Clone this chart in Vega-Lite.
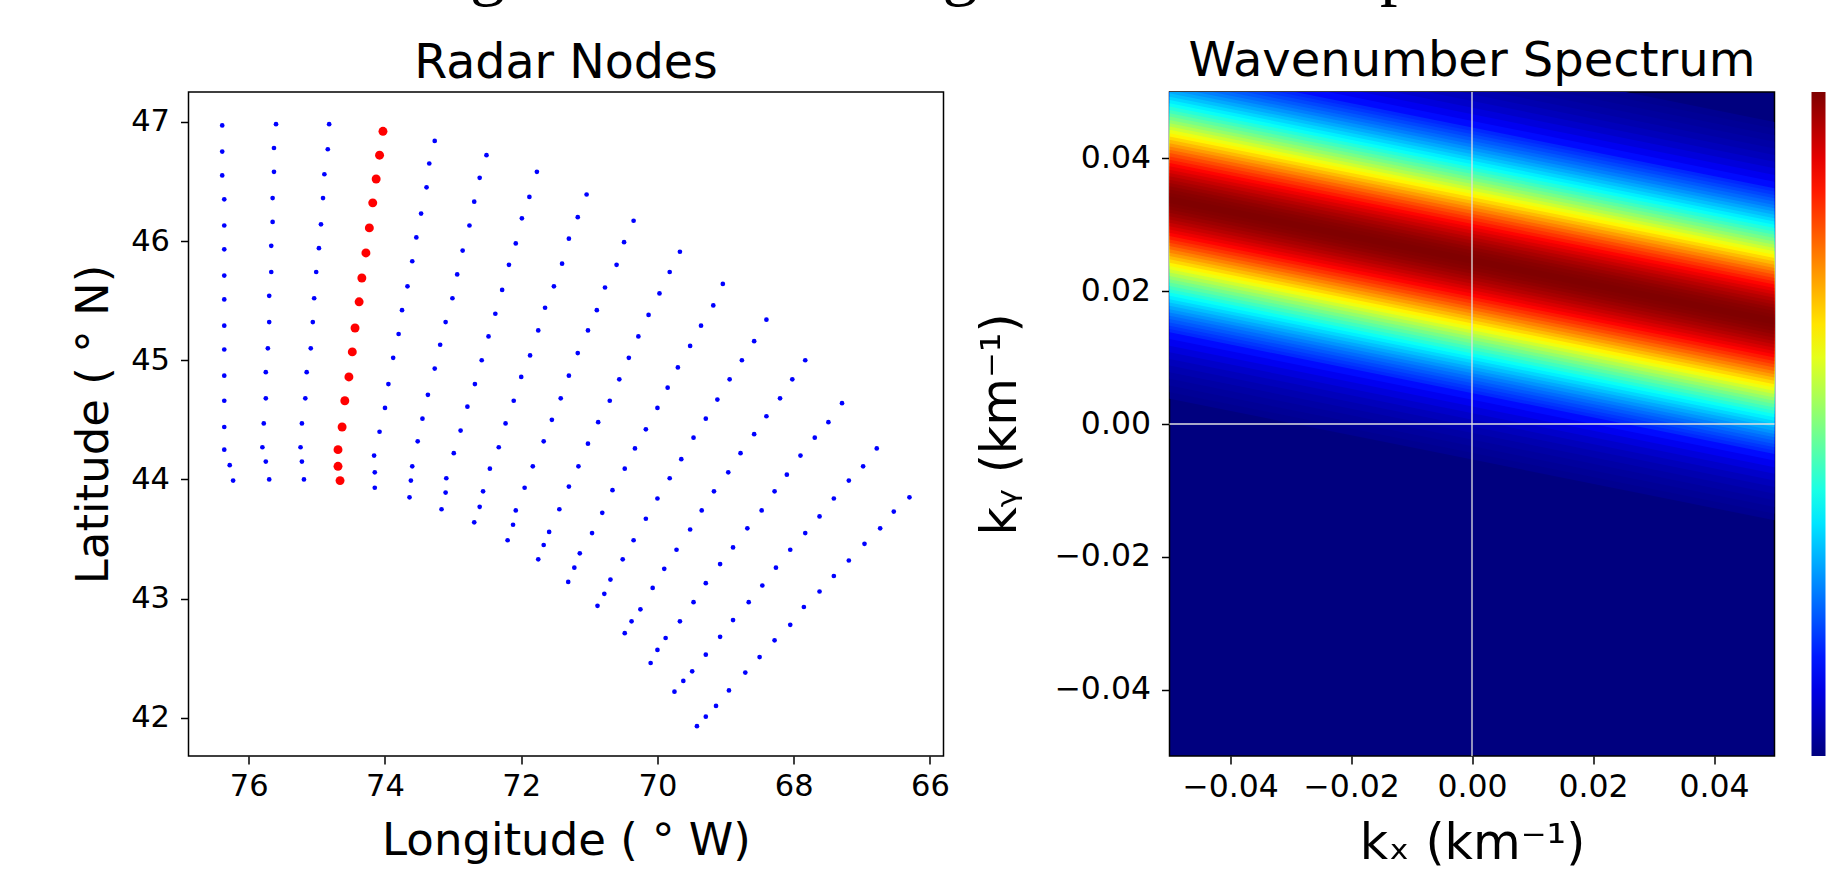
{"$schema":"https://vega.github.io/schema/vega-lite/v6.json","background":"white","padding":{"left":70.5,"top":-65,"right":0,"bottom":0},"title":{"text":"g\u00a0\u00a0\u00a0\u00a0\u00a0\u00a0\u00a0\u00a0\u00a0\u00a0\u00a0\u00a0\u00a0\u00a0\u00a0\u00a0\u00a0\u00a0\u00a0\u00a0\u00a0\u00a0\u00a0\u00a0\u00a0g\u00a0\u00a0\u00a0\u00a0\u00a0\u00a0\u00a0\u00a0\u00a0\u00a0\u00a0\u00a0\u00a0\u00a0\u00a0\u00a0\u00a0\u00a0\u00a0\u00a0\u00a0\u00a0\u00a0p","dx":399,"font":"Liberation Serif","fontSize":70,"fontWeight":"normal","anchor":"start","color":"black","offset":31},"config":{"font":"DejaVu Sans","axis":{"grid":false,"domain":false,"tickColor":"black","tickWidth":1.5,"tickSize":8,"labelColor":"black","titleColor":"black","labelFontSize":30.5,"titleFontSize":45,"titleFontWeight":"normal","labelFont":"DejaVu Sans","titleFont":"DejaVu Sans"},"title":{"fontSize":47.5,"fontWeight":"normal","color":"black","offset":5},"view":{"stroke":"black","strokeWidth":1.5}},"spacing":25,"hconcat":[{"width":755,"height":664,"title":{"text":"Radar Nodes"},"data":{"values":[
{"lon":76.39,"lat":46.97,"s":"n"},{"lon":76.39,"lat":46.75,"s":"n"},{"lon":76.39,"lat":46.55,"s":"n"},{"lon":76.36,"lat":46.35,"s":"n"},{"lon":76.36,"lat":46.13,"s":"n"},{"lon":76.36,"lat":45.93,"s":"n"},{"lon":76.36,"lat":45.71,"s":"n"},{"lon":76.36,"lat":45.51,"s":"n"},{"lon":76.36,"lat":45.29,"s":"n"},{"lon":76.36,"lat":45.09,"s":"n"},{"lon":76.36,"lat":44.87,"s":"n"},{"lon":76.36,"lat":44.66,"s":"n"},{"lon":76.36,"lat":44.44,"s":"n"},{"lon":76.36,"lat":44.25,"s":"n"},{"lon":76.28,"lat":44.12,"s":"n"},{"lon":76.23,"lat":43.99,"s":"n"},
{"lon":75.60,"lat":46.98,"s":"n"},{"lon":75.63,"lat":46.78,"s":"n"},{"lon":75.63,"lat":46.58,"s":"n"},{"lon":75.65,"lat":46.36,"s":"n"},{"lon":75.65,"lat":46.16,"s":"n"},{"lon":75.67,"lat":45.96,"s":"n"},{"lon":75.67,"lat":45.74,"s":"n"},{"lon":75.70,"lat":45.54,"s":"n"},{"lon":75.70,"lat":45.32,"s":"n"},{"lon":75.72,"lat":45.10,"s":"n"},{"lon":75.75,"lat":44.90,"s":"n"},{"lon":75.75,"lat":44.68,"s":"n"},{"lon":75.78,"lat":44.47,"s":"n"},{"lon":75.80,"lat":44.27,"s":"n"},{"lon":75.75,"lat":44.15,"s":"n"},{"lon":75.70,"lat":44.00,"s":"n"},
{"lon":74.82,"lat":46.98,"s":"n"},{"lon":74.84,"lat":46.77,"s":"n"},{"lon":74.89,"lat":46.56,"s":"n"},{"lon":74.91,"lat":46.36,"s":"n"},{"lon":74.94,"lat":46.14,"s":"n"},{"lon":74.97,"lat":45.94,"s":"n"},{"lon":75.01,"lat":45.74,"s":"n"},{"lon":75.04,"lat":45.52,"s":"n"},{"lon":75.06,"lat":45.32,"s":"n"},{"lon":75.09,"lat":45.10,"s":"n"},{"lon":75.15,"lat":44.90,"s":"n"},{"lon":75.17,"lat":44.68,"s":"n"},{"lon":75.22,"lat":44.47,"s":"n"},{"lon":75.24,"lat":44.27,"s":"n"},{"lon":75.22,"lat":44.15,"s":"n"},{"lon":75.19,"lat":44.00,"s":"n"},
{"lon":74.03,"lat":46.92,"s":"y"},{"lon":74.08,"lat":46.72,"s":"y"},{"lon":74.13,"lat":46.52,"s":"y"},{"lon":74.18,"lat":46.32,"s":"y"},{"lon":74.23,"lat":46.11,"s":"y"},{"lon":74.28,"lat":45.90,"s":"y"},{"lon":74.34,"lat":45.69,"s":"y"},{"lon":74.38,"lat":45.49,"s":"y"},{"lon":74.44,"lat":45.27,"s":"y"},{"lon":74.48,"lat":45.07,"s":"y"},{"lon":74.53,"lat":44.86,"s":"y"},{"lon":74.59,"lat":44.66,"s":"y"},{"lon":74.63,"lat":44.44,"s":"y"},{"lon":74.69,"lat":44.25,"s":"y"},{"lon":74.69,"lat":44.11,"s":"y"},{"lon":74.66,"lat":43.99,"s":"y"},
{"lon":73.27,"lat":46.84,"s":"n"},{"lon":73.35,"lat":46.65,"s":"n"},{"lon":73.39,"lat":46.45,"s":"n"},{"lon":73.47,"lat":46.23,"s":"n"},{"lon":73.54,"lat":46.03,"s":"n"},{"lon":73.60,"lat":45.83,"s":"n"},{"lon":73.67,"lat":45.62,"s":"n"},{"lon":73.75,"lat":45.42,"s":"n"},{"lon":73.80,"lat":45.22,"s":"n"},{"lon":73.88,"lat":45.02,"s":"n"},{"lon":73.95,"lat":44.80,"s":"n"},{"lon":74.00,"lat":44.60,"s":"n"},{"lon":74.08,"lat":44.40,"s":"n"},{"lon":74.16,"lat":44.20,"s":"n"},{"lon":74.15,"lat":44.06,"s":"n"},{"lon":74.15,"lat":43.93,"s":"n"},
{"lon":72.51,"lat":46.72,"s":"n"},{"lon":72.61,"lat":46.53,"s":"n"},{"lon":72.69,"lat":46.33,"s":"n"},{"lon":72.76,"lat":46.13,"s":"n"},{"lon":72.86,"lat":45.92,"s":"n"},{"lon":72.94,"lat":45.72,"s":"n"},{"lon":73.01,"lat":45.52,"s":"n"},{"lon":73.11,"lat":45.32,"s":"n"},{"lon":73.19,"lat":45.13,"s":"n"},{"lon":73.27,"lat":44.93,"s":"n"},{"lon":73.37,"lat":44.71,"s":"n"},{"lon":73.45,"lat":44.51,"s":"n"},{"lon":73.52,"lat":44.32,"s":"n"},{"lon":73.60,"lat":44.11,"s":"n"},{"lon":73.62,"lat":43.99,"s":"n"},{"lon":73.64,"lat":43.85,"s":"n"},
{"lon":71.77,"lat":46.58,"s":"n"},{"lon":71.88,"lat":46.37,"s":"n"},{"lon":71.99,"lat":46.19,"s":"n"},{"lon":72.08,"lat":45.98,"s":"n"},{"lon":72.18,"lat":45.80,"s":"n"},{"lon":72.28,"lat":45.59,"s":"n"},{"lon":72.38,"lat":45.39,"s":"n"},{"lon":72.48,"lat":45.20,"s":"n"},{"lon":72.58,"lat":45.00,"s":"n"},{"lon":72.68,"lat":44.80,"s":"n"},{"lon":72.79,"lat":44.61,"s":"n"},{"lon":72.89,"lat":44.41,"s":"n"},{"lon":72.99,"lat":44.22,"s":"n"},{"lon":73.10,"lat":44.01,"s":"n"},{"lon":73.11,"lat":43.89,"s":"n"},{"lon":73.17,"lat":43.75,"s":"n"},
{"lon":71.04,"lat":46.39,"s":"n"},{"lon":71.17,"lat":46.20,"s":"n"},{"lon":71.30,"lat":46.02,"s":"n"},{"lon":71.40,"lat":45.81,"s":"n"},{"lon":71.52,"lat":45.62,"s":"n"},{"lon":71.65,"lat":45.44,"s":"n"},{"lon":71.75,"lat":45.25,"s":"n"},{"lon":71.87,"lat":45.04,"s":"n"},{"lon":72.00,"lat":44.86,"s":"n"},{"lon":72.11,"lat":44.66,"s":"n"},{"lon":72.23,"lat":44.47,"s":"n"},{"lon":72.33,"lat":44.27,"s":"n"},{"lon":72.46,"lat":44.09,"s":"n"},{"lon":72.56,"lat":43.90,"s":"n"},{"lon":72.61,"lat":43.77,"s":"n"},{"lon":72.69,"lat":43.64,"s":"n"},
{"lon":70.35,"lat":46.17,"s":"n"},{"lon":70.49,"lat":45.99,"s":"n"},{"lon":70.60,"lat":45.80,"s":"n"},{"lon":70.77,"lat":45.61,"s":"n"},{"lon":70.89,"lat":45.42,"s":"n"},{"lon":71.02,"lat":45.25,"s":"n"},{"lon":71.17,"lat":45.06,"s":"n"},{"lon":71.30,"lat":44.87,"s":"n"},{"lon":71.42,"lat":44.68,"s":"n"},{"lon":71.55,"lat":44.50,"s":"n"},{"lon":71.67,"lat":44.32,"s":"n"},{"lon":71.83,"lat":44.11,"s":"n"},{"lon":71.95,"lat":43.93,"s":"n"},{"lon":72.08,"lat":43.74,"s":"n"},{"lon":72.12,"lat":43.62,"s":"n"},{"lon":72.20,"lat":43.49,"s":"n"},
{"lon":69.67,"lat":45.91,"s":"n"},{"lon":69.82,"lat":45.74,"s":"n"},{"lon":69.97,"lat":45.56,"s":"n"},{"lon":70.13,"lat":45.38,"s":"n"},{"lon":70.28,"lat":45.20,"s":"n"},{"lon":70.42,"lat":45.02,"s":"n"},{"lon":70.56,"lat":44.84,"s":"n"},{"lon":70.70,"lat":44.66,"s":"n"},{"lon":70.87,"lat":44.48,"s":"n"},{"lon":71.02,"lat":44.30,"s":"n"},{"lon":71.16,"lat":44.11,"s":"n"},{"lon":71.30,"lat":43.94,"s":"n"},{"lon":71.44,"lat":43.75,"s":"n"},{"lon":71.59,"lat":43.56,"s":"n"},{"lon":71.67,"lat":43.45,"s":"n"},{"lon":71.75,"lat":43.33,"s":"n"},
{"lon":69.04,"lat":45.64,"s":"n"},{"lon":69.18,"lat":45.46,"s":"n"},{"lon":69.36,"lat":45.29,"s":"n"},{"lon":69.52,"lat":45.12,"s":"n"},{"lon":69.70,"lat":44.94,"s":"n"},{"lon":69.85,"lat":44.77,"s":"n"},{"lon":70.00,"lat":44.60,"s":"n"},{"lon":70.17,"lat":44.42,"s":"n"},{"lon":70.33,"lat":44.26,"s":"n"},{"lon":70.48,"lat":44.09,"s":"n"},{"lon":70.66,"lat":43.91,"s":"n"},{"lon":70.81,"lat":43.72,"s":"n"},{"lon":70.96,"lat":43.55,"s":"n"},{"lon":71.14,"lat":43.38,"s":"n"},{"lon":71.22,"lat":43.26,"s":"n"},{"lon":71.31,"lat":43.14,"s":"n"},
{"lon":68.40,"lat":45.34,"s":"n"},{"lon":68.58,"lat":45.16,"s":"n"},{"lon":68.76,"lat":45.00,"s":"n"},{"lon":68.94,"lat":44.84,"s":"n"},{"lon":69.12,"lat":44.67,"s":"n"},{"lon":69.29,"lat":44.51,"s":"n"},{"lon":69.47,"lat":44.35,"s":"n"},{"lon":69.65,"lat":44.17,"s":"n"},{"lon":69.82,"lat":44.01,"s":"n"},{"lon":70.00,"lat":43.84,"s":"n"},{"lon":70.17,"lat":43.67,"s":"n"},{"lon":70.35,"lat":43.49,"s":"n"},{"lon":70.51,"lat":43.33,"s":"n"},{"lon":70.69,"lat":43.16,"s":"n"},{"lon":70.78,"lat":43.04,"s":"n"},{"lon":70.88,"lat":42.94,"s":"n"},
{"lon":67.83,"lat":45.00,"s":"n"},{"lon":68.02,"lat":44.84,"s":"n"},{"lon":68.20,"lat":44.68,"s":"n"},{"lon":68.40,"lat":44.53,"s":"n"},{"lon":68.58,"lat":44.38,"s":"n"},{"lon":68.78,"lat":44.22,"s":"n"},{"lon":68.96,"lat":44.06,"s":"n"},{"lon":69.17,"lat":43.90,"s":"n"},{"lon":69.35,"lat":43.74,"s":"n"},{"lon":69.52,"lat":43.58,"s":"n"},{"lon":69.72,"lat":43.41,"s":"n"},{"lon":69.90,"lat":43.25,"s":"n"},{"lon":70.07,"lat":43.09,"s":"n"},{"lon":70.25,"lat":42.91,"s":"n"},{"lon":70.38,"lat":42.81,"s":"n"},{"lon":70.48,"lat":42.71,"s":"n"},
{"lon":67.29,"lat":44.64,"s":"n"},{"lon":67.49,"lat":44.48,"s":"n"},{"lon":67.69,"lat":44.35,"s":"n"},{"lon":67.90,"lat":44.20,"s":"n"},{"lon":68.10,"lat":44.04,"s":"n"},{"lon":68.28,"lat":43.90,"s":"n"},{"lon":68.47,"lat":43.74,"s":"n"},{"lon":68.68,"lat":43.59,"s":"n"},{"lon":68.89,"lat":43.43,"s":"n"},{"lon":69.08,"lat":43.29,"s":"n"},{"lon":69.29,"lat":43.13,"s":"n"},{"lon":69.47,"lat":42.97,"s":"n"},{"lon":69.67,"lat":42.81,"s":"n"},{"lon":69.88,"lat":42.67,"s":"n"},{"lon":70.00,"lat":42.57,"s":"n"},{"lon":70.10,"lat":42.46,"s":"n"},
{"lon":66.78,"lat":44.26,"s":"n"},{"lon":66.98,"lat":44.11,"s":"n"},{"lon":67.19,"lat":43.99,"s":"n"},{"lon":67.41,"lat":43.84,"s":"n"},{"lon":67.62,"lat":43.69,"s":"n"},{"lon":67.83,"lat":43.55,"s":"n"},{"lon":68.05,"lat":43.41,"s":"n"},{"lon":68.26,"lat":43.26,"s":"n"},{"lon":68.46,"lat":43.11,"s":"n"},{"lon":68.66,"lat":42.97,"s":"n"},{"lon":68.89,"lat":42.82,"s":"n"},{"lon":69.08,"lat":42.68,"s":"n"},{"lon":69.29,"lat":42.53,"s":"n"},{"lon":69.49,"lat":42.39,"s":"n"},{"lon":69.62,"lat":42.31,"s":"n"},{"lon":69.75,"lat":42.22,"s":"n"},
{"lon":66.30,"lat":43.85,"s":"n"},{"lon":66.53,"lat":43.73,"s":"n"},{"lon":66.73,"lat":43.59,"s":"n"},{"lon":66.96,"lat":43.46,"s":"n"},{"lon":67.19,"lat":43.32,"s":"n"},{"lon":67.41,"lat":43.19,"s":"n"},{"lon":67.62,"lat":43.06,"s":"n"},{"lon":67.85,"lat":42.93,"s":"n"},{"lon":68.05,"lat":42.78,"s":"n"},{"lon":68.28,"lat":42.65,"s":"n"},{"lon":68.50,"lat":42.51,"s":"n"},{"lon":68.71,"lat":42.38,"s":"n"},{"lon":68.95,"lat":42.23,"s":"n"},{"lon":69.14,"lat":42.10,"s":"n"},{"lon":69.29,"lat":42.01,"s":"n"},{"lon":69.42,"lat":41.93,"s":"n"}
]},"mark":{"type":"circle","opacity":1},"encoding":{"x":{"field":"lon","type":"quantitative","scale":{"domain":[76.885,65.8],"nice":false,"zero":false},"axis":{"values":[76,74,72,70,68,66],"title":"Longitude ( ° W)","labelPadding":7,"titlePadding":17}},"y":{"field":"lat","type":"quantitative","scale":{"domain":[41.68,47.25],"nice":false,"zero":false},"axis":{"values":[42,43,44,45,46,47],"title":"Latitude ( ° N)","labelPadding":11,"titlePadding":14}},"color":{"field":"s","type":"nominal","scale":{"domain":["n","y"],"range":["#0000ff","#ff0000"]},"legend":null},"size":{"field":"s","type":"nominal","scale":{"domain":["n","y"],"range":[22,80]},"legend":null}}},
{"width":605,"height":664,"title":{"text":"Wavenumber Spectrum","fontSize":48},"view":{"fill":"#00007f","stroke":"black","strokeWidth":1.5},"layer":[{"data":{"values":[
{"kx":-0.05,"lo":0.0038,"hi":0.0638,"p":0.017},{"kx":0.05,"lo":-0.0145,"hi":0.0455,"p":0.017},
{"kx":-0.05,"lo":0.0048,"hi":0.0628,"p":0.022},{"kx":0.05,"lo":-0.0135,"hi":0.0445,"p":0.022},
{"kx":-0.05,"lo":0.0058,"hi":0.0618,"p":0.029},{"kx":0.05,"lo":-0.0125,"hi":0.0435,"p":0.029},
{"kx":-0.05,"lo":0.0068,"hi":0.0608,"p":0.037},{"kx":0.05,"lo":-0.0115,"hi":0.0425,"p":0.037},
{"kx":-0.05,"lo":0.0078,"hi":0.0598,"p":0.047},{"kx":0.05,"lo":-0.0105,"hi":0.0415,"p":0.047},
{"kx":-0.05,"lo":0.0088,"hi":0.0588,"p":0.059},{"kx":0.05,"lo":-0.0095,"hi":0.0405,"p":0.059},
{"kx":-0.05,"lo":0.0098,"hi":0.0578,"p":0.073},{"kx":0.05,"lo":-0.0085,"hi":0.0395,"p":0.073},
{"kx":-0.05,"lo":0.0108,"hi":0.0568,"p":0.091},{"kx":0.05,"lo":-0.0075,"hi":0.0385,"p":0.091},
{"kx":-0.05,"lo":0.0118,"hi":0.0558,"p":0.111},{"kx":0.05,"lo":-0.0065,"hi":0.0375,"p":0.111},
{"kx":-0.05,"lo":0.0128,"hi":0.0548,"p":0.135},{"kx":0.05,"lo":-0.0055,"hi":0.0365,"p":0.135},
{"kx":-0.05,"lo":0.0138,"hi":0.0538,"p":0.163},{"kx":0.05,"lo":-0.0045,"hi":0.0355,"p":0.163},
{"kx":-0.05,"lo":0.0143,"hi":0.0533,"p":0.178},{"kx":0.05,"lo":-0.0040,"hi":0.0350,"p":0.178},
{"kx":-0.05,"lo":0.0148,"hi":0.0528,"p":0.195},{"kx":0.05,"lo":-0.0035,"hi":0.0345,"p":0.195},
{"kx":-0.05,"lo":0.0153,"hi":0.0523,"p":0.212},{"kx":0.05,"lo":-0.0030,"hi":0.0340,"p":0.212},
{"kx":-0.05,"lo":0.0158,"hi":0.0518,"p":0.230},{"kx":0.05,"lo":-0.0025,"hi":0.0335,"p":0.230},
{"kx":-0.05,"lo":0.0163,"hi":0.0513,"p":0.249},{"kx":0.05,"lo":-0.0020,"hi":0.0330,"p":0.249},
{"kx":-0.05,"lo":0.0168,"hi":0.0508,"p":0.270},{"kx":0.05,"lo":-0.0015,"hi":0.0325,"p":0.270},
{"kx":-0.05,"lo":0.0173,"hi":0.0503,"p":0.291},{"kx":0.05,"lo":-0.0010,"hi":0.0320,"p":0.291},
{"kx":-0.05,"lo":0.0178,"hi":0.0498,"p":0.313},{"kx":0.05,"lo":-0.0005,"hi":0.0315,"p":0.313},
{"kx":-0.05,"lo":0.0183,"hi":0.0493,"p":0.336},{"kx":0.05,"lo":0.0000,"hi":0.0310,"p":0.336},
{"kx":-0.05,"lo":0.0188,"hi":0.0488,"p":0.360},{"kx":0.05,"lo":0.0005,"hi":0.0305,"p":0.360},
{"kx":-0.05,"lo":0.0193,"hi":0.0483,"p":0.385},{"kx":0.05,"lo":0.0010,"hi":0.0300,"p":0.385},
{"kx":-0.05,"lo":0.0198,"hi":0.0478,"p":0.411},{"kx":0.05,"lo":0.0015,"hi":0.0295,"p":0.411},
{"kx":-0.05,"lo":0.0203,"hi":0.0473,"p":0.438},{"kx":0.05,"lo":0.0020,"hi":0.0290,"p":0.438},
{"kx":-0.05,"lo":0.0208,"hi":0.0468,"p":0.465},{"kx":0.05,"lo":0.0025,"hi":0.0285,"p":0.465},
{"kx":-0.05,"lo":0.0213,"hi":0.0463,"p":0.492},{"kx":0.05,"lo":0.0030,"hi":0.0280,"p":0.492},
{"kx":-0.05,"lo":0.0218,"hi":0.0458,"p":0.520},{"kx":0.05,"lo":0.0035,"hi":0.0275,"p":0.520},
{"kx":-0.05,"lo":0.0223,"hi":0.0453,"p":0.549},{"kx":0.05,"lo":0.0040,"hi":0.0270,"p":0.549},
{"kx":-0.05,"lo":0.0228,"hi":0.0448,"p":0.578},{"kx":0.05,"lo":0.0045,"hi":0.0265,"p":0.578},
{"kx":-0.05,"lo":0.0233,"hi":0.0443,"p":0.607},{"kx":0.05,"lo":0.0050,"hi":0.0260,"p":0.607},
{"kx":-0.05,"lo":0.0238,"hi":0.0438,"p":0.635},{"kx":0.05,"lo":0.0055,"hi":0.0255,"p":0.635},
{"kx":-0.05,"lo":0.0243,"hi":0.0433,"p":0.664},{"kx":0.05,"lo":0.0060,"hi":0.0250,"p":0.664},
{"kx":-0.05,"lo":0.0248,"hi":0.0428,"p":0.693},{"kx":0.05,"lo":0.0065,"hi":0.0245,"p":0.693},
{"kx":-0.05,"lo":0.0253,"hi":0.0423,"p":0.721},{"kx":0.05,"lo":0.0070,"hi":0.0240,"p":0.721},
{"kx":-0.05,"lo":0.0258,"hi":0.0418,"p":0.748},{"kx":0.05,"lo":0.0075,"hi":0.0235,"p":0.748},
{"kx":-0.05,"lo":0.0263,"hi":0.0413,"p":0.775},{"kx":0.05,"lo":0.0080,"hi":0.0230,"p":0.775},
{"kx":-0.05,"lo":0.0268,"hi":0.0408,"p":0.801},{"kx":0.05,"lo":0.0085,"hi":0.0225,"p":0.801},
{"kx":-0.05,"lo":0.0273,"hi":0.0403,"p":0.825},{"kx":0.05,"lo":0.0090,"hi":0.0220,"p":0.825},
{"kx":-0.05,"lo":0.0278,"hi":0.0398,"p":0.849},{"kx":0.05,"lo":0.0095,"hi":0.0215,"p":0.849},
{"kx":-0.05,"lo":0.0283,"hi":0.0393,"p":0.872},{"kx":0.05,"lo":0.0100,"hi":0.0210,"p":0.872},
{"kx":-0.05,"lo":0.0288,"hi":0.0388,"p":0.893},{"kx":0.05,"lo":0.0105,"hi":0.0205,"p":0.893},
{"kx":-0.05,"lo":0.0293,"hi":0.0383,"p":0.912},{"kx":0.05,"lo":0.0110,"hi":0.0200,"p":0.912},
{"kx":-0.05,"lo":0.0298,"hi":0.0378,"p":0.930},{"kx":0.05,"lo":0.0115,"hi":0.0195,"p":0.930},
{"kx":-0.05,"lo":0.0303,"hi":0.0373,"p":0.946},{"kx":0.05,"lo":0.0120,"hi":0.0190,"p":0.946},
{"kx":-0.05,"lo":0.0308,"hi":0.0368,"p":0.960},{"kx":0.05,"lo":0.0125,"hi":0.0185,"p":0.960},
{"kx":-0.05,"lo":0.0313,"hi":0.0363,"p":0.972},{"kx":0.05,"lo":0.0130,"hi":0.0180,"p":0.972},
{"kx":-0.05,"lo":0.0318,"hi":0.0358,"p":0.982},{"kx":0.05,"lo":0.0135,"hi":0.0175,"p":0.982},
{"kx":-0.05,"lo":0.0323,"hi":0.0353,"p":0.990},{"kx":0.05,"lo":0.0140,"hi":0.0170,"p":0.990},
{"kx":-0.05,"lo":0.0328,"hi":0.0348,"p":0.995},{"kx":0.05,"lo":0.0145,"hi":0.0165,"p":0.995},
{"kx":-0.05,"lo":0.0333,"hi":0.0343,"p":0.999},{"kx":0.05,"lo":0.0150,"hi":0.0160,"p":0.999}
]},"mark":{"type":"area","clip":true,"orient":"vertical","interpolate":"linear"},"encoding":{"x":{"field":"kx","type":"quantitative","scale":{"domain":[-0.05,0.05],"nice":false,"zero":false},"axis":{"values":[-0.04,-0.02,0,0.02,0.04],"format":".2f","title":"kₓ (km⁻¹)","labelPadding":7,"labelFontSize":31.5,"titleFontSize":49,"titlePadding":17}},"y":{"field":"lo","type":"quantitative","stack":null,"scale":{"domain":[-0.05,0.05],"nice":false,"zero":false},"axis":{"values":[-0.04,-0.02,0,0.02,0.04],"format":".2f","title":"kᵧ (km⁻¹)","labelPadding":11,"labelFontSize":31.5,"titleFontSize":49,"titlePadding":28}},"y2":{"field":"hi"},"color":{"field":"p","type":"quantitative","scale":{"domain":[0,0.125,0.375,0.625,0.875,1],"range":["#00007f","#0000ff","#00ffff","#ffff00","#ff0000","#7f0000"],"interpolate":"rgb"},"legend":{"title":null,"labelExpr":"''","labelOpacity":0,"labelPadding":0,"labelFontSize":1,"gradientLength":664,"gradientThickness":14,"gradientStrokeWidth":0,"offset":37,"padding":0,"orient":"right"}}}},
{"data":{"values":[{"kx":0}]},"mark":{"type":"rule","color":"#e0e0e0","strokeWidth":1.3},"encoding":{"x":{"field":"kx","type":"quantitative"}}},
{"data":{"values":[{"ky":0}]},"mark":{"type":"rule","color":"#e0e0e0","strokeWidth":1.3},"encoding":{"y":{"field":"ky","type":"quantitative"}}}]}]}
